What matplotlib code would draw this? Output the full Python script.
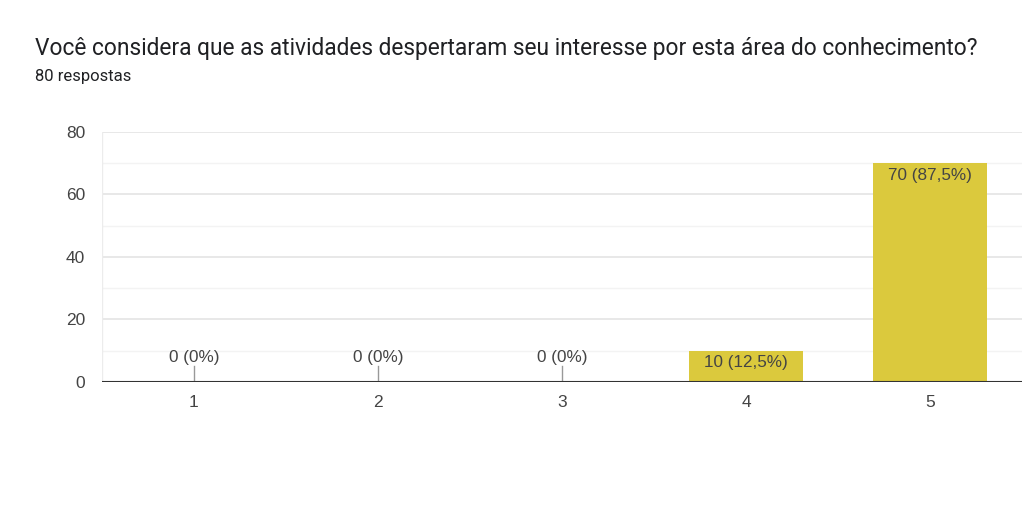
import numpy as np
import matplotlib.pyplot as plt

# Dados do gráfico
categorias = ["1", "2", "3", "4", "5"]
respostas = [0, 0, 0, 10, 70]
rotulos = ["0 (0%)", "0 (0%)", "0 (0%)", "10 (12,5%)", "70 (87,5%)"]
titulo = "Você considera que as atividades despertaram seu interesse por esta área do conhecimento?"
subtitulo = "80 respostas"

cor_barra = "#dbc93d"
cor_texto = "#444444"

fig = plt.figure(figsize=(10.24, 5.2), dpi=100)
ax = fig.add_axes([0.0996, 0.2654, 0.8984, 0.4808])

x = np.arange(len(categorias))
ax.bar(x, respostas, width=0.62, color=cor_barra, zorder=3)

ax.set_xlim(-0.5, len(categorias) - 0.5)
ax.set_ylim(0, 80)

# grade
for v in [20, 40, 60, 80]:
    ax.axhline(v, color="#e6e6e6", lw=1.3, zorder=1)
for v in [10, 30, 50, 70]:
    ax.axhline(v, color="#f3f3f3", lw=1.0, zorder=1)
ax.axhline(0, color="#333333", lw=1.5, zorder=4)
ax.axvline(-0.5, color="#ececec", lw=1.0, zorder=1)

# rótulos das barras
for xi, val, txt in zip(x, respostas, rotulos):
    if val == 0:
        ax.plot([xi, xi], [0, 5.2], color="#999999", lw=1.0, zorder=2)
        ax.text(xi, 7.7, txt, ha="center", va="center", fontsize=12.3,
                color=cor_texto, family="Liberation Sans")
    else:
        ax.text(xi, val - 3.8, txt, ha="center", va="center", fontsize=12.3,
                color=cor_texto, family="Liberation Sans", zorder=5)

for s in ax.spines.values():
    s.set_visible(False)

ax.set_xticks(x)
ax.set_xticklabels(categorias)
ax.set_yticks([0, 20, 40, 60, 80])
ax.tick_params(length=0, labelsize=12.5, labelcolor=cor_texto)
ax.tick_params(axis="x", pad=9.5)
ax.tick_params(axis="y", pad=12)
for lab in ax.get_xticklabels() + ax.get_yticklabels():
    lab.set_family("Liberation Sans")

fig.text(35 / 1024, 1 - 48 / 520, titulo, fontsize=16.35, family="Roboto",
         color="#202124", va="center", ha="left")
fig.text(35 / 1024, 1 - 77 / 520, subtitulo, fontsize=12, family="Roboto",
         color="#202124", va="center", ha="left")

fig.savefig("out.png", dpi=100, facecolor="white")
